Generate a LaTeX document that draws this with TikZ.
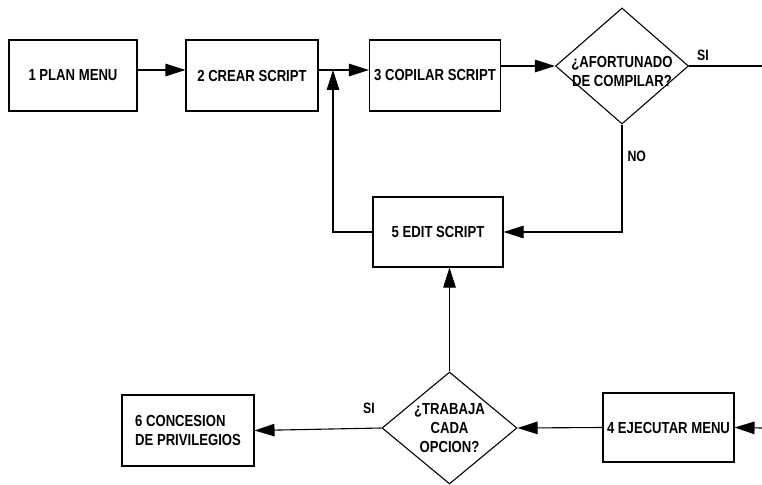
\documentclass[tikz,border=0pt]{standalone}
\usepackage{fontspec}
\setmainfont{Liberation Sans}[FakeStretch=0.82]
\usetikzlibrary{positioning,arrows.meta,shapes.geometric,calc}
\tikzset{
  stepbox/.style = {rectangle, draw, line width=1.1pt, minimum width=131pt, minimum height=71pt,
                    inner sep=2pt, align=center, font=\fontsize{16}{19}\selectfont\bfseries},
  choice/.style  = {diamond, draw, line width=1.1pt, inner sep=0pt,
                    minimum width=133pt, minimum height=116pt},
  dtext/.style   = {align=center, inner sep=0pt, font=\fontsize{16}{19}\selectfont\bfseries},
  flow/.style    = {-{Triangle[length=20pt,width=12.5pt]}, line width=1.1pt},
  wire/.style    = {line width=1.1pt},
  tag/.style     = {font=\fontsize{15}{18}\selectfont\bfseries, inner sep=1pt},
}
\begin{document}
\begin{tikzpicture}[x=1pt, y=-1pt]
  \useasboundingbox (0,0) rectangle (762,484);
  % top row
  \node[stepbox, minimum width=128pt] (plan) at (73,75.5) {1 PLAN MENU};
  \node[stepbox, minimum width=132pt] (crear) at (252,75.5) {2 CREAR SCRIPT};
  \node[stepbox] (copilar) at (435,75.5) {3 COPILAR SCRIPT};
  \node[choice, label={[dtext, yshift=-5pt]center:{¿AFORTUNADO\\DE COMPILAR?}}] (ok) at (622,66) {};
  % middle
  \node[stepbox, minimum width=130pt, minimum height=70pt] (edit) at (438,232) {5 EDIT SCRIPT};
  % bottom row
  \node[choice, minimum width=135pt, minimum height=112pt,
        label={[dtext]center:{¿TRABAJA\\CADA\\OPCION?}}] (works) at (449.5,428) {};
  \node[stepbox, minimum height=69pt] (ejec) at (668.5,427.5) {4 EJECUTAR MENU};
  \node[stepbox, minimum width=132pt, align=left] (conc) at (188,430.5) {6 CONCESION\\DE PRIVILEGIOS};
  \coordinate (join) at (333,70);
  \coordinate (outR) at (762,66);
  \coordinate (inR) at (762,428);
  \draw[flow] ([yshift=5.5pt]plan.east) -- ([yshift=5.5pt]crear.west);
  \draw[flow] ([yshift=5.5pt]crear.east) -- ([yshift=5.5pt]copilar.west);
  \draw[flow] (copilar.east |- ok.west) -- (ok.west);
  \draw[wire] (ok.east) -- (outR);
  \node[tag] (si1) at (703,55) {SI};
  \draw[flow] (ok.south) |- (edit.east) node[tag, pos=0.15, anchor=west, xshift=4pt] {NO};
  \draw[flow] (edit.west) -| (join);
  \draw[flow] (inR) -- (ejec.east);
  \draw[flow] (ejec.west) -- (works.east);
  \draw[flow] (works.north) -- (works.north |- edit.south);
  \draw[flow] (works.west) -- (conc.east);
  \node[tag] (si2) at (369,408) {SI};
\end{tikzpicture}
\end{document}
